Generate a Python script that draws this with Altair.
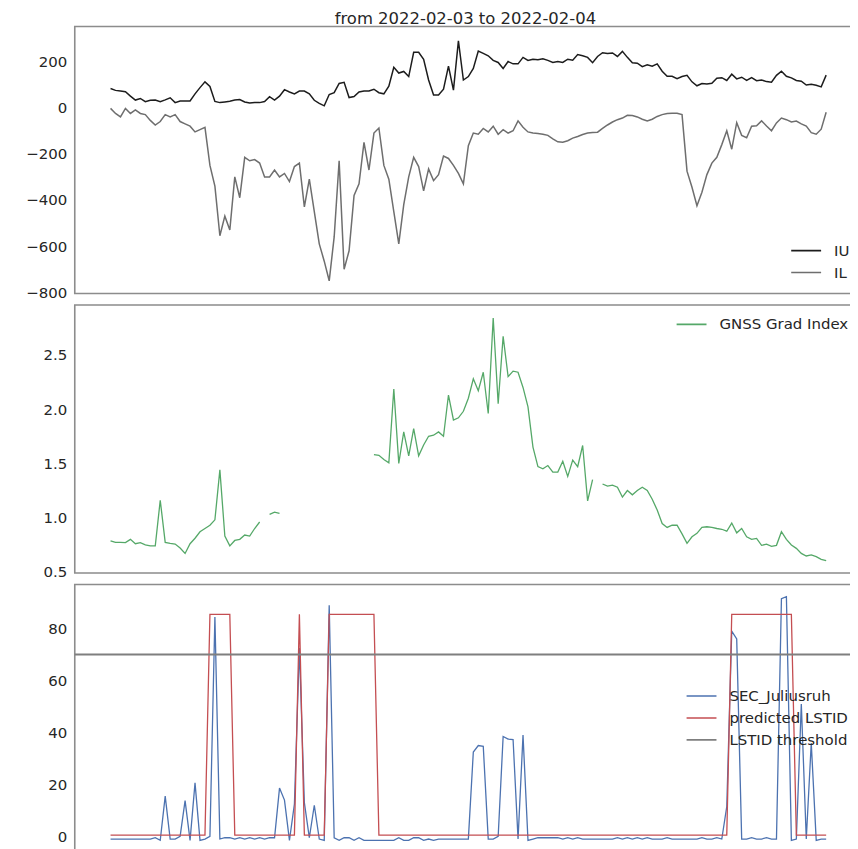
import numpy as np
import pandas as pd
import altair as alt

TITLE = "from 2022-02-03 to 2022-02-04"
STEP_MIN = 10  # sampling step of the series, minutes from 2022-02-03 00:00

IU = [83, 75, 72, 69, 50, 33, 40, 26, 32, 33,
      26, 34, 43, 22, 29, 29, 29, 60, 87, 112,
      92, 27, 22, 25, 28, 33, 35, 25, 20, 22,
      22, 27, 48, 33, 50, 78, 68, 60, 72, 72,
      60, 32, 19, 8, 57, 65, 105, 110, 44, 48,
      68, 72, 72, 80, 65, 60, 93, 175, 150, 157,
      135, 240, 240, 210, 120, 55, 55, 80, 180, 76,
      290, 120, 135, 170, 245, 235, 225, 205, 196, 170,
      200, 190, 190, 218, 205, 210, 208, 212, 205, 196,
      200, 196, 210, 206, 230, 225, 218, 195, 222, 238,
      235, 237, 222, 244, 218, 195, 193, 178, 186, 180,
      190, 158, 136, 136, 126, 135, 140, 112, 95, 105,
      103, 106, 128, 130, 118, 145, 125, 132, 118, 130,
      117, 120, 113, 110, 140, 158, 136, 129, 118, 115,
      98, 101, 97, 90, 141]

IL = [-3, -25, -40, -3, -25, -10, -25, -30, -55, -75,
      -60, -30, -40, -30, -60, -70, -80, -105, -95, -85,
      -250, -340, -555, -470, -530, -300, -390, -215, -230, -225,
      -240, -300, -300, -270, -300, -285, -320, -255, -240, -430,
      -310, -450, -590, -665, -750, -560, -230, -700, -620, -380,
      -330, -150, -270, -110, -88, -250, -310, -450, -590, -420,
      -300, -215, -255, -360, -265, -316, -290, -210, -220, -250,
      -285, -330, -165, -110, -115, -90, -105, -80, -115, -95,
      -110, -100, -57, -85, -105, -110, -112, -115, -120, -135,
      -148, -150, -143, -132, -125, -116, -110, -108, -106, -90,
      -75, -62, -52, -45, -33, -34, -40, -50, -58, -50,
      -38, -30, -25, -24, -24, -30, -275, -345, -425, -366,
      -290, -240, -215, -160, -100, -180, -65, -120, -130, -80,
      -78, -57, -79, -100, -66, -45, -52, -62, -58, -70,
      -80, -108, -115, -93, -20]

NA = float("nan")
GNSS = [0.787, 0.772, 0.772, 0.77, 0.80, 0.76, 0.77, 0.75, 0.74, 0.74,
        1.16, 0.772, 0.763, 0.757, 0.72, 0.67, 0.76, 0.81, 0.87, 0.90,
        0.93, 0.98, 1.44, 0.83, 0.74, 0.79, 0.80, 0.84, 0.83, 0.90,
        0.96, NA, 1.03, 1.05, 1.04, NA, NA, NA, NA, NA,
        NA, NA, NA, NA, NA, NA, NA, NA, NA, NA,
        NA, NA, NA, 1.58, 1.575, 1.535, 1.505, 2.185, 1.50, 1.79,
        1.57, 1.82, 1.57, 1.67, 1.75, 1.76, 1.79, 1.75, 2.13, 1.90,
        1.92, 1.98, 2.10, 2.28, 2.17, 2.34, 1.96, 2.84, 2.05, 2.67,
        2.30, 2.35, 2.34, 2.20, 2.02, 1.65, 1.47, 1.45, 1.48, 1.42,
        1.42, 1.52, 1.38, 1.53, 1.47, 1.665, 1.154, 1.35, NA, 1.31,
        1.29, 1.30, 1.28, 1.19, 1.25, 1.21, 1.25, 1.28, 1.25, 1.17,
        1.07, 0.946, 0.91, 0.93, 0.93, 0.85, 0.763, 0.824, 0.855, 0.91,
        0.916, 0.91, 0.90, 0.893, 0.875, 0.95, 0.86, 0.90, 0.824, 0.80,
        0.809, 0.745, 0.755, 0.735, 0.745, 0.87, 0.80, 0.748, 0.717, 0.671,
        0.647, 0.656, 0.641, 0.616, 0.604]

SEC = [-1, -1, -1, -1, -1, -1, -1, -1, -1, -0.5,
       -1.5, 15.5, -1, -1, 0, 13.8, -1.5, 20.6, -1.5, -1,
       0, 84.5, -1, -0.5, -0.5, -1, -0.5, -1, -0.5, -1,
       -0.5, -1, -0.5, -0.5, 18.6, 14, -1.5, 12.5, 72.5, 13,
       -0.5, 12, -1, -1.5, 89, -0.5, -1.5, -0.5, -0.5, -1.5,
       -0.5, -1.5, -1.5, -1.5, -1.5, -1.5, -1.5, -1.5, -0.5, -1.5,
       -1.5, -0.5, -0.5, -1.5, -1, -1.5, -1, -1, -1, -1,
       -1, -1, -1, 32.5, 35, 34.7, -1, -1, 0, 38.5,
       37.5, 37.3, -1, 39, -1.5, -1, -0.5, -0.5, -0.5, -0.5,
       -0.5, -1, -0.5, -1, -0.5, -1, -1, -1, -1, -1,
       -1, -1, -0.5, -1, -0.5, -1, -0.5, -1, -0.5, -1,
       -1, -1, -0.5, -1, -1, -1, -1, -1, -1, -0.5,
       -1, -1, -0.5, -1, 11.5, 79, 76, -1, -1, -0.5,
       -1, -1, -0.5, -1, -1, 91.5, 92.3, -1.5, -1, 51,
       -1, 36, -1.5, -1, -1]

PRED = [0.5, 0.5, 0.5, 0.5, 0.5, 0.5, 0.5, 0.5, 0.5, 0.5,
        0.5, 0.5, 0.5, 0.5, 0.5, 0.5, 0.5, 0.5, 0.5, 0.5,
        85.5, 85.5, 85.5, 85.5, 85.5, 0.5, 0.5, 0.5, 0.5, 0.5,
        0.5, 0.5, 0.5, 0.5, 0.5, 0.5, 0.5, 0.5, 85.5, 0.5,
        0.5, 0.5, 0.5, 0.5, 85.5, 85.5, 85.5, 85.5, 85.5, 85.5,
        85.5, 85.5, 85.5, 85.5, 0.5, 0.5, 0.5, 0.5, 0.5, 0.5,
        0.5, 0.5, 0.5, 0.5, 0.5, 0.5, 0.5, 0.5, 0.5, 0.5,
        0.5, 0.5, 0.5, 0.5, 0.5, 0.5, 0.5, 0.5, 0.5, 0.5,
        0.5, 0.5, 0.5, 0.5, 0.5, 0.5, 0.5, 0.5, 0.5, 0.5,
        0.5, 0.5, 0.5, 0.5, 0.5, 0.5, 0.5, 0.5, 0.5, 0.5,
        0.5, 0.5, 0.5, 0.5, 0.5, 0.5, 0.5, 0.5, 0.5, 0.5,
        0.5, 0.5, 0.5, 0.5, 0.5, 0.5, 0.5, 0.5, 0.5, 0.5,
        0.5, 0.5, 0.5, 0.5, 0.5, 85.5, 85.5, 85.5, 85.5, 85.5,
        85.5, 85.5, 85.5, 85.5, 85.5, 85.5, 85.5, 85.5, 0.5, 0.5,
        0.5, 0.5, 0.5, 0.5, 0.5]

THRESHOLD = 70

P1_TICKS = [-800, -600, -400, -200, 0, 200]
P2_TICKS = [0.5, 1.0, 1.5, 2.0, 2.5]
P3_TICKS = [0, 20, 40, 60, 80]

# ---------------------------------------------------------------- styling
FONT = "DejaVu Sans"
TXT = "#262626"
FRAME = "#8c8c8c"
W = 784
C_IU, C_IL = "#1c1c1c", "#6e6e6e"
C_GNSS = "#55a868"
C_SEC, C_PRED, C_THR = "#4c72b0", "#c44e52", "#7f7f7f"

n = len(IU)
hours = np.arange(n) * STEP_MIN / 60.0

xenc = alt.X("hour:Q", scale=alt.Scale(domain=[-1.2, 25.0], nice=False, zero=False), axis=None)


def yaxis(values, fmt):
    return alt.Axis(values=values, format=fmt, domain=False, ticks=False, grid=False,
                    labelFontSize=15, labelColor=TXT, labelFont=FONT, labelPadding=8)


# ---------------------------------------------------------------- panel 1
df1 = pd.DataFrame({
    "hour": np.concatenate([hours, hours]),
    "value": IU + IL,
    "series": ["IU"] * n + ["IL"] * n,
})
p1 = alt.Chart(df1).mark_line(strokeWidth=1.5).encode(
    x=xenc,
    y=alt.Y("value:Q", title=None,
            scale=alt.Scale(domain=[-805, 352], nice=False, zero=False),
            axis=yaxis(P1_TICKS, "d")),
    color=alt.Color("series:N", title=None,
                    scale=alt.Scale(domain=["IU", "IL"], range=[C_IU, C_IL]),
                    legend=alt.Legend(orient="none", legendX=718, legendY=215)),
).properties(
    width=W, height=268,
    title=alt.Title(TITLE, fontSize=16.5, font=FONT, fontWeight="normal", color=TXT,
                    anchor="middle", frame="group", offset=-1),
)

# ---------------------------------------------------------------- panel 2
df2 = pd.DataFrame({"hour": hours, "value": GNSS, "series": ["GNSS Grad Index"] * n})
p2 = alt.Chart(df2).mark_line(strokeWidth=1.3, invalid="break-paths-show-domains").encode(
    x=xenc,
    y=alt.Y("value:Q", title=None,
            scale=alt.Scale(domain=[0.49, 2.96], nice=False, zero=False),
            axis=yaxis(P2_TICKS, ".1f")),
    color=alt.Color("series:N", title=None,
                    scale=alt.Scale(domain=["GNSS Grad Index"], range=[C_GNSS]),
                    legend=alt.Legend(orient="none", legendX=603, legendY=9.5)),
).properties(width=W, height=269)

# ---------------------------------------------------------------- panel 3
S3 = ["SEC_Juliusruh", "predicted LSTID", "LSTID threshold"]
df3 = pd.DataFrame({
    "hour": np.concatenate([hours, hours]),
    "value": SEC + PRED,
    "series": [S3[0]] * n + [S3[1]] * n,
})
df3t = pd.DataFrame({"value": [THRESHOLD], "series": [S3[2]]})

y3 = alt.Y("value:Q", title=None,
           scale=alt.Scale(domain=[-5.8, 97], nice=False, zero=False),
           axis=yaxis(P3_TICKS, "d"))
c3 = alt.Color("series:N", title=None,
               scale=alt.Scale(domain=S3, range=[C_SEC, C_PRED, C_THR]),
               legend=alt.Legend(orient="none", legendX=613, legendY=102))

lines3 = alt.Chart(df3).mark_line(strokeWidth=1.3).encode(x=xenc, y=y3, color=c3)
thr3 = alt.Chart(df3t).mark_rule(strokeWidth=2).encode(y=y3, color=c3)
p3 = alt.layer(lines3, thr3).properties(width=W, height=268)

chart = alt.vconcat(p1, p2, p3, spacing=11.5, bounds="flush").resolve_scale(
    color="independent"
).properties(
    padding={"left": 17, "top": 0, "right": -8, "bottom": 0},
).configure(
    font=FONT,
).configure_view(
    stroke=FRAME, strokeWidth=1.6,
).configure_legend(
    labelFontSize=15, labelFont=FONT, labelColor=TXT,
    symbolType="stroke", symbolSize=900, symbolStrokeWidth=1.6,
    clipHeight=20, rowPadding=2, labelOffset=12, padding=0,
)

chart.save("out.html", embed_options={"renderer": "svg", "actions": False})
